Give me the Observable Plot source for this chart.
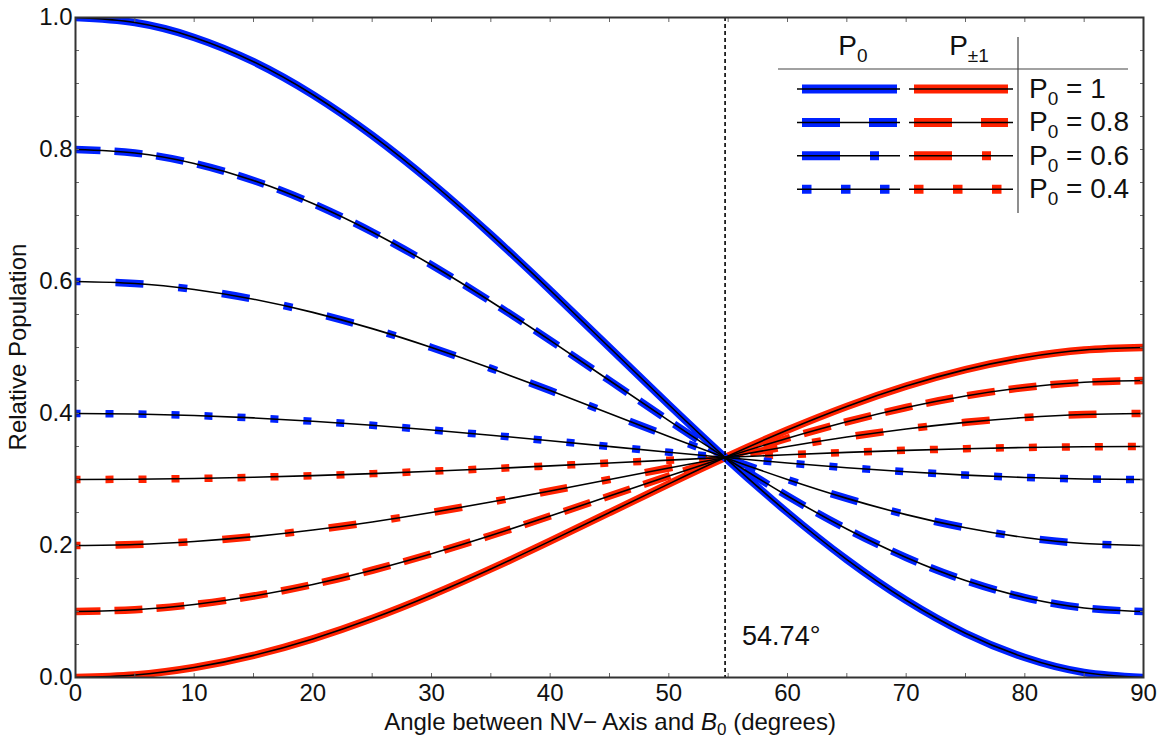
<!DOCTYPE html>
<html>
<head>
<meta charset="utf-8">
<script src="https://cdn.jsdelivr.net/npm/d3@7"></script>
<script src="https://cdn.jsdelivr.net/npm/@observablehq/plot@0.6"></script>
<style>
  body { margin: 0; background: #fff; }
  #chart { position: relative; width: 1164px; height: 745px; font-family: "Liberation Sans", Arial, sans-serif; }
  #chart svg { position: absolute; left: 0; top: 0; overflow: visible; }
</style>
</head>
<body>
<div id="chart"></div>
<script>
// Angle between the NV- axis and the applied field B0 (degrees)
const angles = [0, 5, 10, 15, 20, 25, 30, 35, 40, 45, 50, 55, 60, 65, 70, 75, 80, 85, 90];

// Population of the ms = 0 state (P0) for initial polarisations 1, 0.8, 0.6, 0.4
const p0From1  = [1, 0.9924, 0.9698, 0.9330, 0.8830, 0.8214, 0.75, 0.6710, 0.5868, 0.5, 0.4132, 0.3290, 0.25, 0.1786, 0.1170, 0.0670, 0.0302, 0.0076, 0];
const p0From08 = [0.8, 0.7947, 0.7789, 0.7531, 0.7181, 0.6750, 0.625, 0.5697, 0.5108, 0.45, 0.3892, 0.3303, 0.275, 0.2250, 0.1819, 0.1469, 0.1211, 0.1053, 0.1];
const p0From06 = [0.6, 0.5970, 0.5879, 0.5732, 0.5532, 0.5286, 0.5, 0.4684, 0.4347, 0.4, 0.3653, 0.3316, 0.3, 0.2714, 0.2468, 0.2268, 0.2121, 0.2030, 0.2];
const p0From04 = [0.4, 0.3992, 0.3970, 0.3933, 0.3883, 0.3821, 0.375, 0.3671, 0.3587, 0.35, 0.3413, 0.3329, 0.325, 0.3179, 0.3117, 0.3067, 0.3030, 0.3008, 0.3];

// Population of each ms = ±1 state (P±1) for the same initial polarisations
const pm1From1  = [0, 0.0038, 0.0151, 0.0335, 0.0585, 0.0893, 0.125, 0.1645, 0.2066, 0.25, 0.2934, 0.3355, 0.375, 0.4107, 0.4415, 0.4665, 0.4849, 0.4962, 0.5];
const pm1From08 = [0.1, 0.1027, 0.1106, 0.1234, 0.1409, 0.1625, 0.1875, 0.2151, 0.2446, 0.275, 0.3054, 0.3349, 0.3625, 0.3875, 0.4091, 0.4266, 0.4394, 0.4473, 0.45];
const pm1From06 = [0.2, 0.2015, 0.2060, 0.2134, 0.2234, 0.2357, 0.25, 0.2658, 0.2826, 0.3, 0.3174, 0.3342, 0.35, 0.3643, 0.3766, 0.3866, 0.3940, 0.3985, 0.4];
const pm1From04 = [0.3, 0.3004, 0.3015, 0.3034, 0.3058, 0.3089, 0.3125, 0.3164, 0.3207, 0.325, 0.3293, 0.3336, 0.3375, 0.3411, 0.3442, 0.3467, 0.3485, 0.3496, 0.35];

// Magic angle where every curve meets
const magicAngle = 54.74;

// Axis ticks
const xTicks = [0, 10, 20, 30, 40, 50, 60, 70, 80, 90];
const xMinorTicks = d3.range(0, 91, 5);
const yTicks = [0, 0.2, 0.4, 0.6, 0.8, 1.0];
const yMinorTicks = d3.range(0, 21).map(i => i / 20);

// Legend rows
const polarisationLabels = ["1", "0.8", "0.6", "0.4"];

const BLUE = "#0022ff";
const RED = "#ff2200";
const FONT = '"Liberation Sans", Arial, sans-serif';

// line styles in the plot: solid, dashed, dot-dashed, dotted
const plotDash = [null, "28,14", "28,35,9,35", "8,25"];
const plotDashOffset = [0, 3, 67, 3];
// line styles in the legend key
const legendDash = [null, "38,29", "38,30,9,30", "9.5,29.5"];

const p0Series = [p0From1, p0From08, p0From06, p0From04];
const pm1Series = [pm1From1, pm1From08, pm1From06, pm1From04];

const toRows = (values, key) => angles.map((a, i) => ({angle: a, pop: values[i], key}));

const colouredLine = (values, i, colour, key) =>
  Plot.line(toRows(values, key), {
    x: "angle", y: "pop", stroke: colour, strokeWidth: 7.5,
    strokeDasharray: plotDash[i] ?? undefined,
    strokeDashoffset: plotDashOffset[i],
    strokeLinecap: "butt",
    curve: "natural", clip: true
  });

const allRows = [
  ...pm1Series.flatMap((v, i) => toRows(v, "pm1-" + i)),
  ...p0Series.flatMap((v, i) => toRows(v, "p0-" + i))
];

const tickStroke = "#666";

const plot = Plot.plot({
  width: 1164,
  height: 745,
  marginLeft: 75,
  marginRight: 21,
  marginTop: 17,
  marginBottom: 68,
  style: {fontFamily: FONT, fontSize: "24px", color: "#111", background: "transparent"},
  x: {domain: [0, 90]},
  y: {domain: [0, 1]},
  marks: [
    // coloured populations: P±1 in red, P0 in blue
    ...pm1Series.map((v, i) => colouredLine(v, i, RED, "pm1-" + i)),
    ...p0Series.map((v, i) => colouredLine(v, i, BLUE, "p0-" + i)),
    // thin black trace through every curve
    Plot.line(allRows, {x: "angle", y: "pop", z: "key", stroke: "black", strokeWidth: 1.6, curve: "natural", clip: true}),
    // magic angle marker
    Plot.ruleX([magicAngle], {stroke: "black", strokeWidth: 1.6, strokeDasharray: "4,3"}),
    Plot.text([magicAngle], {x: d => d, frameAnchor: "bottom", dy: -33, dx: 17, textAnchor: "start",
      text: d => d.toFixed(2) + "°", fontSize: 27, fill: "#111"}),
    // tick labels
    Plot.axisX({ticks: xTicks, tickSize: 0, tickPadding: 6, label: null, fontSize: 24}),
    Plot.axisY({ticks: yTicks, tickSize: 0, tickPadding: 3, label: null, fontSize: 24, tickFormat: d3.format(".1f")}),
    // small inward ticks on all four sides
    Plot.axisX({ticks: xMinorTicks, tickSize: -4, fill: "none", label: null, stroke: tickStroke}),
    Plot.axisX({anchor: "top", ticks: xMinorTicks, tickSize: -4, fill: "none", label: null, stroke: tickStroke}),
    Plot.axisY({ticks: yMinorTicks, tickSize: -4, fill: "none", label: null, stroke: tickStroke}),
    Plot.axisY({anchor: "right", ticks: yMinorTicks, tickSize: -4, fill: "none", label: null, stroke: tickStroke}),
    Plot.frame({stroke: "#333", strokeWidth: 2})
  ]
});

const chart = document.getElementById("chart");
chart.appendChild(plot);

// Axis titles and the legend key
const overlay = d3.select(chart).append("svg")
  .attr("width", 1164).attr("height", 745)
  .style("pointer-events", "none")
  .style("font-family", FONT)
  .attr("fill", "#111");

overlay.append("text")
  .attr("transform", "translate(26,347) rotate(-90)")
  .attr("text-anchor", "middle")
  .attr("font-size", 24)
  .text("Relative Population");

const xTitle = overlay.append("text")
  .attr("x", 610).attr("y", 730)
  .attr("text-anchor", "middle")
  .attr("font-size", 24);
xTitle.append("tspan").text("Angle between NV\u2212 Axis and ");
xTitle.append("tspan").attr("font-style", "italic").text("B");
xTitle.append("tspan").attr("font-size", 17).attr("dy", 5).text("0");
xTitle.append("tspan").attr("dy", -5).text(" (degrees)");

// legend table
const legend = overlay.append("g");
const subscripted = (x, y, main, sub) => {
  const t = legend.append("text").attr("x", x).attr("y", y).attr("font-size", 28);
  t.append("tspan").text(main);
  t.append("tspan").attr("font-size", 19).attr("dy", 7).text(sub);
  return t;
};
subscripted(853, 55, "P", "0").attr("text-anchor", "middle");
subscripted(969, 55, "P", "\u00b11").attr("text-anchor", "middle");
legend.append("line").attr("x1", 778).attr("x2", 1128).attr("y1", 69).attr("y2", 69)
  .attr("stroke", "#444").attr("stroke-width", 1.2);
legend.append("line").attr("x1", 1018).attr("x2", 1018).attr("y1", 37).attr("y2", 213)
  .attr("stroke", "#444").attr("stroke-width", 1.2);

polarisationLabels.forEach((lab, i) => {
  const cy = 89 + i * 33.4;
  [[802, 897, 797, 900, BLUE], [914, 1008, 909, 1013, RED]].forEach(([a, b, c, d, col]) => {
    legend.append("line").attr("x1", a).attr("x2", b).attr("y1", cy).attr("y2", cy)
      .attr("stroke", col).attr("stroke-width", 9)
      .attr("stroke-dasharray", legendDash[i]);
    legend.append("line").attr("x1", c).attr("x2", d).attr("y1", cy).attr("y2", cy)
      .attr("stroke", "black").attr("stroke-width", 1.5);
  });
  const t = legend.append("text").attr("x", 1029).attr("y", cy + 9).attr("font-size", 28);
  t.append("tspan").text("P");
  t.append("tspan").attr("font-size", 19).attr("dy", 7).text("0");
  t.append("tspan").attr("dy", -7).text(" = " + lab);
});
</script>
</body>
</html>
